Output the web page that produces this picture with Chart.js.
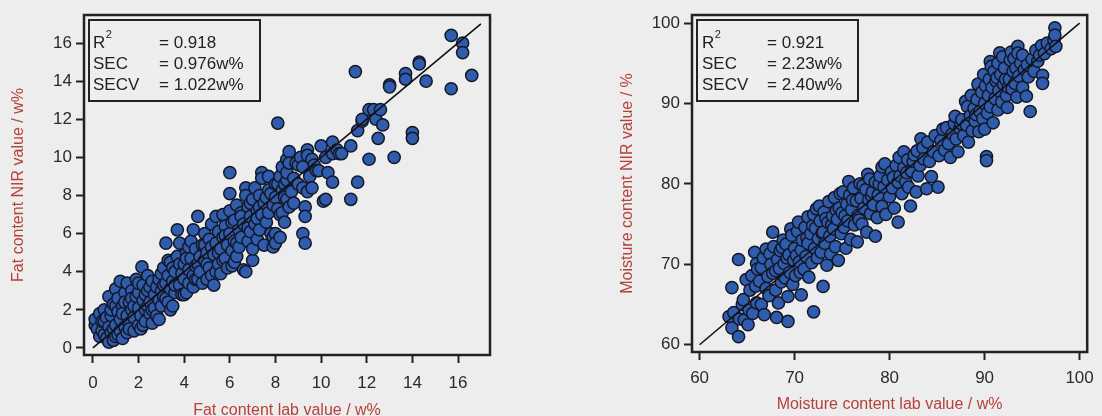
<!DOCTYPE html>
<html><head><meta charset="utf-8">
<script src="https://cdn.jsdelivr.net/npm/chart.js@4.4.0/dist/chart.umd.min.js"></script>
<style>
html,body{margin:0;padding:0;background:#ededed;width:1102px;height:416px;overflow:hidden;position:relative;}
canvas{position:absolute;top:0;}
#c1{left:0;} #c2{left:600px;}
</style></head><body>
<canvas id="c1" width="520" height="420"></canvas>
<canvas id="c2" width="502" height="416"></canvas>
<script>
// ---------- data ----------
const fatPoints = [
[0.1,1.2],[0.1,1.5],[0.2,1.0],[0.3,1.8],[0.3,0.6],[0.4,0.9],[0.4,1.4],[0.5,1.4],[0.5,2.0],[0.5,0.7],[0.6,0.5],[0.6,1.6],[0.7,0.3],[0.7,1.1],[0.7,2.7],[0.8,1.7],[0.8,0.8],[0.8,2.0],[0.9,2.3],[0.9,0.4],[0.9,1.0],[1.0,1.2],[1.0,3.1],[1.0,0.6],[1.0,2.2],[1.1,1.9],[1.1,2.6],[1.1,0.7],[1.2,0.9],[1.2,1.5],[1.2,3.5],[1.3,2.2],[1.3,0.5],[1.3,1.8],[1.4,1.1],[1.4,2.9],[1.4,2.4],[1.5,1.7],[1.5,3.4],[1.5,0.8],
[1.6,2.4],[1.6,1.3],[1.6,1.0],[1.7,2.0],[1.7,3.0],[1.7,2.6],[1.8,0.9],[1.8,1.6],[1.8,2.2],[1.9,2.7],[1.9,3.6],[2.0,1.2],[2.0,2.1],[2.0,2.9],[2.0,3.4],[2.1,1.0],[2.1,1.7],[2.15,4.25],[2.2,2.5],[2.2,3.3],[2.2,1.2],[2.3,1.4],[2.3,2.0],[2.3,2.8],[2.4,3.0],[2.4,3.8],[2.4,2.2],[2.5,1.8],[2.5,2.4],[2.5,3.2],[2.6,1.3],[2.6,3.5],[2.6,2.0],[2.7,2.8],[2.7,2.1],[2.8,3.2],[2.8,1.7],[2.9,2.5],[2.9,1.5],[2.9,3.6],[3.0,3.0],[3.0,2.2],[3.0,3.9],
[3.1,2.7],[3.1,4.2],[3.1,3.3],[3.2,5.5],[3.2,3.4],[3.2,2.6],[3.3,2.4],[3.3,3.8],[3.3,4.6],[3.4,3.1],[3.4,4.5],[3.4,2.0],[3.5,2.2],[3.5,3.5],[3.5,4.2],[3.6,4.0],[3.6,2.9],[3.6,3.3],[3.7,6.2],[3.7,4.8],[3.8,5.5],[3.8,3.3],[3.8,4.4],[3.9,3.9],[3.9,2.8],[4.0,4.4],[4.0,3.6],[4.0,2.8],[4.1,5.0],[4.1,2.9],[4.1,4.7],[4.2,4.1],[4.2,3.4],[4.2,5.3],[4.3,5.6],[4.3,4.7],[4.4,6.2],[4.4,3.8],[4.4,3.2],[4.5,4.3],[4.5,5.2],[4.5,3.6],[4.6,6.9],[4.6,3.6],[4.6,4.4],[4.7,4.8],[4.7,4.0],[4.8,5.4],[4.8,3.4],[4.9,4.6],[4.9,6.0],[4.9,5.4],[5.0,3.6],[5.0,5.0],[5.0,4.4],
[5.1,4.2],[5.1,5.7],[5.2,6.5],[5.2,3.8],[5.2,5.3],[5.3,3.3],[5.3,4.9],[5.4,5.5],[5.4,6.9],[5.4,4.0],[5.5,4.4],[5.5,6.1],[5.5,5.0],[5.6,5.2],[5.6,3.9],[5.7,5.8],[5.7,7.0],[5.7,4.6],[5.8,4.7],[5.8,6.4],[5.8,5.9],[5.9,5.4],[5.9,4.2],[6.0,9.2],[6.0,8.1],[6.0,7.2],[6.0,6.0],[6.1,4.3],[6.1,5.1],[6.1,6.6],[6.2,6.7],[6.2,5.6],[6.2,4.5],[6.3,7.5],[6.3,4.8],[6.3,5.5],[6.4,6.2],[6.4,5.3],[6.5,7.1],[6.5,5.8],[6.5,6.9],[6.6,4.1],[6.6,6.5],[6.7,8.4],[6.7,8.0],[6.7,4.0],[6.8,7.4],[6.8,5.6],[6.8,6.3],[6.9,6.9],[6.9,6.1],[6.9,7.6],[7.0,4.6],[7.0,7.8],[7.0,5.2],
[7.1,6.5],[7.1,8.4],[7.2,7.2],[7.2,5.7],[7.2,6.8],[7.3,8.0],[7.3,6.2],[7.3,7.4],[7.4,9.2],[7.4,8.9],[7.4,7.0],[7.5,5.4],[7.5,7.6],[7.6,6.6],[7.6,7.9],[7.7,8.3],[7.7,7.1],[7.7,9.0],[7.8,8.1],[7.8,6.0],[7.9,5.8],[7.9,5.3],[7.9,7.5],[8.0,7.9],[8.0,6.0],[8.0,5.5],[8.0,8.6],[8.1,11.8],[8.1,8.6],[8.1,7.3],[8.2,9.0],[8.2,5.8],[8.2,7.0],[8.3,9.5],[8.3,8.3],[8.3,7.1],[8.4,7.9],[8.4,6.6],[8.4,8.6],[8.5,9.9],[8.5,8.8],[8.5,9.2],[8.5,7.8],[8.6,10.3],[8.6,9.7],[8.6,7.4],[8.7,8.2],[8.8,7.6],[8.8,8.9],[8.9,9.7],[9.0,8.6],[9.0,9.6],
[9.1,10.0],[9.2,9.5],[9.2,8.4],[9.2,6.0],[9.3,7.4],[9.3,6.9],[9.3,5.5],[9.4,10.4],[9.4,10.1],[9.4,8.2],[9.5,9.0],[9.6,8.4],[9.6,9.9],[9.7,9.6],[9.8,9.3],[9.9,9.3],[10.0,10.6],[10.1,7.7],[10.2,7.8],[10.2,10.0],[10.3,9.2],[10.5,10.2],[10.5,10.8],[10.5,8.7],[10.7,10.4],[10.8,10.2],[10.9,10.2],
[11.3,10.6],[11.3,7.8],[11.5,14.5],[11.6,11.4],[11.6,8.7],[11.8,11.9],[11.8,12.0],[12.1,12.5],[12.1,9.9],[12.3,12.5],[12.4,12.0],[12.5,11.0],[12.6,12.5],[12.7,11.7],[13.0,13.8],[13.0,13.7],[13.2,10.0],[13.7,14.4],[13.7,14.1],[14.0,11.3],[14.0,11.0],[14.3,15.0],[14.3,14.9],[14.6,14.0],[15.7,16.4],[15.7,13.6],[16.2,16.0],[16.2,15.5],[16.6,14.3]
];
const moisturePoints = [
[63.1,63.5],[63.4,62.1],[63.4,67.1],[63.6,64.0],[64.1,61.0],[64.1,70.6],[64.2,63.2],[64.5,65.0],[64.6,65.6],[64.7,63.1],[64.9,68.1],[65.1,62.5],[65.2,64.3],[65.3,66.8],[65.5,68.6],[65.6,63.9],[65.8,71.5],[65.9,67.3],[66.0,65.2],[66.0,70.1],[66.1,69.4],
[66.3,67.9],[66.5,69.6],[66.5,65.0],[66.7,70.8],[66.8,63.75],[67.0,71.9],[67.0,67.0],[67.2,68.5],[67.3,66.1],[67.4,71.3],[67.5,70.0],[67.7,74.0],[67.7,68.9],[67.8,72.2],[68.0,66.8],[68.0,69.2],[68.1,63.4],[68.2,70.6],[68.3,65.2],[68.4,69.5],[68.5,71.7],[68.6,67.8],[68.7,72.1],[68.8,73.0],[68.9,70.1],[69.0,68.3],[69.1,72.5],[69.2,70.8],[69.3,62.9],[69.3,66.0],[69.4,71.2],[69.5,69.0],[69.6,74.4],[69.7,73.6],[69.8,67.5],[69.9,70.5],
[70.0,72.0],[70.1,68.6],[70.2,71.1],[70.3,74.1],[70.4,75.25],[70.5,70.3],[70.6,69.0],[70.7,66.2],[70.7,71.8],[70.8,73.0],[71.0,69.4],[71.1,74.6],[71.2,71.0],[71.3,73.3],[71.4,75.9],[71.4,72.6],[71.5,68.4],[71.7,73.8],[71.8,70.2],[71.9,74.8],[72.0,64.1],[72.0,76.2],[72.1,72.0],[72.2,74.5],[72.3,76.9],[72.4,70.8],[72.5,73.2],[72.6,77.25],[72.7,75.4],[72.8,71.5],[72.9,73.9],[73.0,67.25],[73.0,74.0],[73.1,76.5],[73.2,72.6],[73.3,75.7],[73.4,69.9],[73.5,75.2],[73.6,77.8],[73.7,73.5],[73.8,71.3],[73.9,74.9],[74.0,76.0],[74.1,74.4],[74.2,78.3],[74.3,72.2],[74.4,76.7],[74.5,75.6],[74.6,70.5],[74.7,77.0],[74.8,78.8],[74.9,73.8],
[75.0,76.4],[75.1,79.0],[75.2,74.6],[75.3,76.0],[75.4,72.0],[75.5,77.5],[75.6,75.4],[75.7,80.3],[75.8,78.6],[75.9,73.1],[76.0,76.8],[76.1,78.0],[76.2,79.5],[76.3,74.9],[76.5,77.9],[76.6,72.8],[76.7,76.1],[76.8,75.5],[76.9,80.0],[77.0,78.2],[77.1,75.0],[77.2,79.8],[77.3,77.0],[77.5,79.3],[77.6,74.0],[77.7,81.2],[77.8,78.0],[77.9,80.6],[78.0,76.3],[78.1,78.5],[78.2,79.0],[78.3,77.4],[78.5,73.5],[78.5,80.2],[78.7,75.8],[78.8,78.6],[78.9,80.0],[79.0,81.0],[79.2,82.1],[79.2,77.2],[79.4,79.6],[79.5,82.5],[79.6,76.2],[79.8,80.5],
[80.0,78.4],[80.2,81.5],[80.3,79.5],[80.4,80.8],[80.5,77.0],[80.7,82.3],[80.9,75.25],[80.9,80.2],[81.0,83.3],[81.1,81.0],[81.3,78.8],[81.5,84.0],[81.5,82.0],[81.7,80.3],[81.8,81.4],[81.9,83.0],[82.0,79.6],[82.2,77.25],[82.3,81.6],[82.5,82.8],[82.6,83.6],[82.8,79.0],[82.9,84.1],[83.0,81.0],[83.2,82.3],[83.3,85.6],[83.5,84.5],[83.6,83.1],[83.9,79.4],[84.0,85.2],[84.2,82.8],[84.4,80.9],[84.6,84.0],[84.8,86.0],[85.1,79.6],
[85.2,83.5],[85.4,85.4],[85.6,86.8],[85.8,84.2],[86.0,87.0],[86.2,85.0],[86.4,83.3],[86.6,86.2],[86.8,87.5],[86.9,88.4],[87.0,85.6],[87.2,84.0],[87.4,86.9],[87.5,87.5],[87.6,88.0],[87.8,86.0],[88.0,90.25],[88.1,87.3],[88.2,89.6],[88.3,85.2],[88.5,88.5],[88.6,91.0],[88.7,86.6],[88.9,89.4],[89.0,87.8],[89.1,88.6],[89.2,90.5],[89.3,92.4],[89.4,86.5],[89.5,89.0],[89.7,91.4],[89.8,88.1],[89.9,93.6],[90.0,90.0],[90.0,86.8],[90.1,92.2],[90.2,83.4],[90.2,82.9],
[90.3,88.8],[90.4,91.0],[90.5,93.0],[90.6,89.6],[90.6,95.2],[90.7,94.6],[90.8,92.0],[90.9,87.6],[91.0,94.0],[91.1,90.6],[91.2,92.8],[91.3,93.2],[91.4,95.0],[91.4,89.2],[91.5,91.6],[91.6,96.3],[91.7,93.6],[91.8,90.2],[91.9,95.8],[92.0,92.4],[92.1,94.4],[92.2,93.0],[92.3,91.0],[92.4,89.5],[92.5,92.0],[92.6,93.0],[92.7,95.4],[92.8,96.4],[92.9,91.8],[93.0,94.0],[93.1,95.6],[93.2,92.5],[93.3,94.4],[93.4,90.8],[93.5,97.1],[93.5,96.25],[93.6,93.4],[93.8,95.0],[94.0,92.0],[94.0,96.0],[94.2,94.2],[94.4,90.9],[94.5,94.8],[94.6,93.3],[94.8,89.0],[95.0,95.5],[95.2,94.0],[95.4,96.6],[95.6,95.25],[95.8,96.0],[96.0,97.2],[96.1,93.5],[96.1,92.5],[96.3,96.2],[96.6,97.5],[97.0,96.8],[97.3,97.9],[97.4,99.4],[97.4,98.5],[97.5,97.1]
];
const fatTicks = [0, 2, 4, 6, 8, 10, 12, 14, 16];
const moistureTicks = [60, 70, 80, 90, 100];
const fatLine = [0, 17];
const moistureLine = [60, 100];
const statNames = ['R', 'SEC', 'SECV'];
const fatStats = ['0.918', '0.976w%', '1.022w%'];
const moistureStats = ['0.921', '2.23w%', '2.40w%'];
const fatTitles = ['Fat content lab value / w%', 'Fat content NIR value / w%'];
const moistureTitles = ['Moisture content lab value / w%', 'Moisture content NIR value / %'];

// ---------- drawing ----------
const FONT = '"Liberation Sans", Arial, sans-serif';
const framePlugin = {
  id: 'frameBox',
  afterDatasetsDraw(chart, args, o) {
    const {ctx, chartArea: a} = chart;
    ctx.save();
    ctx.strokeStyle = '#222';
    ctx.lineWidth = 2.5;
    ctx.strokeRect(a.left, a.top, a.right - a.left, a.bottom - a.top);
    const bx = a.left + 5, by = a.top + 5;
    ctx.fillStyle = '#eeeeee';
    ctx.fillRect(bx, by, o.w, 81);
    ctx.lineWidth = 2;
    ctx.strokeRect(bx, by, o.w, 81);
    ctx.fillStyle = '#222';
    ctx.font = '17px ' + FONT;
    ctx.textBaseline = 'middle';
    const rows = [23.5, 44, 65];
    statNames.forEach((n, i) => {
      ctx.fillText(n, bx + o.tx, by + rows[i]);
      ctx.fillText('= ' + o.values[i], bx + 70, by + rows[i]);
    });
    const rw = ctx.measureText('R').width;
    ctx.font = '11px ' + FONT;
    ctx.fillText('2', bx + o.tx + rw + 0.5, by + rows[0] - 9);
    ctx.restore();
  }
};

function makeChart(id, pts, line, ticks, lim, titles, stats, g) {
  const tickFont = {family: FONT, size: 17};
  const titleFont = {family: FONT, size: 16};
  return new Chart(document.getElementById(id), {
    type: 'scatter',
    data: {
      datasets: [
        {data: line.map(v => ({x: v, y: v})), showLine: true, borderColor: '#111', borderWidth: 1.6, pointRadius: 0, order: 0},
        {data: pts.map(p => ({x: p[0], y: p[1]})), pointRadius: 6.1, backgroundColor: '#2f5cad', borderColor: '#141826', borderWidth: 1.5, order: 1}
      ]
    },
    options: {
      responsive: false, animation: false,
      layout: {padding: {left: 0, right: g.right, top: 15, bottom: 0}},
      plugins: {legend: {display: false}, tooltip: {enabled: false}, frameBox: {w: g.boxW, tx: g.tx, values: stats}},
      scales: {
        x: {
          type: 'linear', min: lim[0], max: lim[1],
          afterBuildTicks: s => { s.ticks = ticks.map(v => ({value: v})); },
          afterFit: s => { s.height = g.xh; },
          border: {display: false},
          grid: {display: true, drawOnChartArea: false, drawTicks: true, tickLength: 8, tickWidth: 2, tickColor: '#222'},
          ticks: {autoSkip: false, maxRotation: 0, color: '#2a2a2a', font: tickFont, padding: g.xpad},
          title: {display: true, text: titles[0], color: '#b5413a', font: titleFont, padding: {top: 0, bottom: g.xtp}}
        },
        y: {
          type: 'linear', min: lim[2], max: lim[3],
          afterBuildTicks: s => { s.ticks = ticks.map(v => ({value: v})); },
          afterFit: s => { s.width = g.yw; },
          border: {display: false},
          grid: {display: true, drawOnChartArea: false, drawTicks: true, tickLength: 8, tickWidth: 2, tickColor: '#222'},
          ticks: {autoSkip: false, color: '#2a2a2a', font: tickFont, padding: 4},
          title: {display: true, text: titles[1], color: '#b5413a', font: titleFont, padding: {top: g.ytp, bottom: 0}}
        }
      }
    },
    plugins: [framePlugin]
  });
}

makeChart('c1', fatPoints, fatLine, fatTicks, [-0.39, 17.4, -0.37, 17.47], fatTitles, fatStats,
  {right: 30, xh: 65, yw: 84, xtp: 0, ytp: 9, boxW: 171, tx: 4, xpad: 10});
makeChart('c2', moisturePoints, moistureLine, moistureTicks, [59.2, 100.8, 59.1, 101], moistureTitles, moistureStats,
  {right: 12, xh: 64, yw: 92, xtp: 1.4, ytp: 18.4, boxW: 161, tx: 5, xpad: 8});
</script>
</body></html>
